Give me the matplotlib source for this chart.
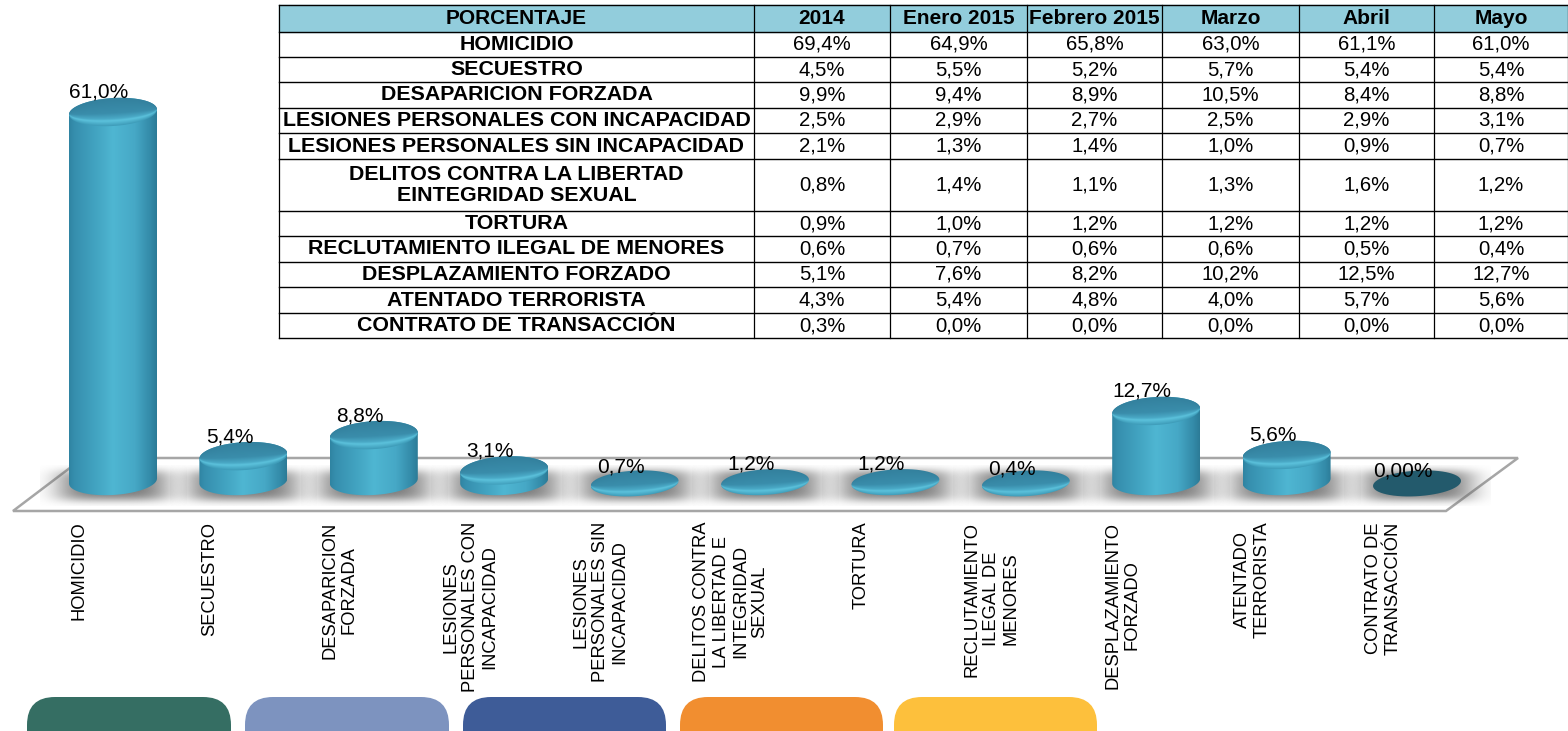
import numpy as np
import matplotlib
matplotlib.use("Agg")
import matplotlib.pyplot as plt
from matplotlib.colors import to_rgb
from matplotlib.patches import FancyBboxPatch, Polygon

plt.rcParams["font.family"] = ["Liberation Sans", "DejaVu Sans"]

# table data
table_title = "PORCENTAJE"
table_periods = ["2014", "Enero 2015", "Febrero 2015", "Marzo", "Abril", "Mayo"]
table_rows = [
    "HOMICIDIO",
    "SECUESTRO",
    "DESAPARICION FORZADA",
    "LESIONES PERSONALES CON INCAPACIDAD",
    "LESIONES PERSONALES SIN INCAPACIDAD",
    "DELITOS CONTRA LA LIBERTAD\nEINTEGRIDAD SEXUAL",
    "TORTURA",
    "RECLUTAMIENTO ILEGAL DE MENORES",
    "DESPLAZAMIENTO FORZADO",
    "ATENTADO TERRORISTA",
    "CONTRATO DE TRANSACCIÓN",
]
values_2014 = [69.4, 4.5, 9.9, 2.5, 2.1, 0.8, 0.9, 0.6, 5.1, 4.3, 0.3]
values_enero = [64.9, 5.5, 9.4, 2.9, 1.3, 1.4, 1.0, 0.7, 7.6, 5.4, 0.0]
values_febrero = [65.8, 5.2, 8.9, 2.7, 1.4, 1.1, 1.2, 0.6, 8.2, 4.8, 0.0]
values_marzo = [63.0, 5.7, 10.5, 2.5, 1.0, 1.3, 1.2, 0.6, 10.2, 4.0, 0.0]
values_abril = [61.1, 5.4, 8.4, 2.9, 0.9, 1.6, 1.2, 0.5, 12.5, 5.7, 0.0]
values_mayo = [61.0, 5.4, 8.8, 3.1, 0.7, 1.2, 1.2, 0.4, 12.7, 5.6, 0.0]

# chart data
bar_names = [
    "HOMICIDIO",
    "SECUESTRO",
    "DESAPARICION\nFORZADA",
    "LESIONES\nPERSONALES CON\nINCAPACIDAD",
    "LESIONES\nPERSONALES SIN\nINCAPACIDAD",
    "DELITOS CONTRA\nLA LIBERTAD E\nINTEGRIDAD\nSEXUAL",
    "TORTURA",
    "RECLUTAMIENTO\nILEGAL DE\nMENORES",
    "DESPLAZAMIENTO\nFORZADO",
    "ATENTADO\nTERRORISTA",
    "CONTRATO DE\nTRANSACCIÓN",
]
bar_labels = ["61,0%", "5,4%", "8,8%", "3,1%", "0,7%", "1,2%", "1,2%", "0,4%", "12,7%", "5,6%", "0,00%"]
button_colors = ["#356e63", "#7d93bf", "#3e5c98", "#f18e30", "#fdc03c"]

# layout, in pixels of the 1568x731 picture
W, H = 1568, 731
col_edges = [279, 754, 890, 1027, 1162, 1299, 1434, 1568]
row_edges = [5, 32, 57, 82, 108, 133, 159, 211, 236, 262, 287, 313, 338]
button_edges = [(27, 231), (245, 449), (463, 666), (680, 883), (894, 1097)]
first_bar_px, bar_step_px = 113, 130.4
zero_px, pct_px = 489.6, 6.19
half_w = 44 / bar_step_px
half_h = 14 / pct_px
disk_h = 12.8 / pct_px
disk_level = 1.0
min_cylinder = 1.4
base_level = 1.39
# the cylinders lean a little: the right side of each ellipse sits higher
skew = (5 / pct_px) / (2 * half_w)

body_stops = [0, 0.06, 0.3, 0.5, 0.75, 0.93, 1]
body_colors = ["#2f84a2", "#368fae", "#42a3c1", "#4fb6d2", "#46a8c6", "#338aa8", "#2c7b97"]
top_stops = [0, 0.55, 0.75, 0.82, 1]
top_colors = ["#33809d", "#3a8dab", "#4aa9c6", "#5cc2dc", "#3f9dba"]


def ramp(stops, colors, n=200):
    pos = np.linspace(0, 1, n)
    rgb = np.array([to_rgb(c) for c in colors])
    return np.stack([np.interp(pos, stops, rgb[:, k]) for k in range(3)], axis=1)


def ellipse_points(x, y, w, h, start, stop, n=60):
    t = np.linspace(start, stop, n)
    return np.column_stack([x + w * np.cos(t), y + h * np.sin(t) + skew * w * np.cos(t)])


def draw_shadow(ax, x):
    gx, gy = np.meshgrid(np.linspace(-1, 1, 200), np.linspace(-1, 1, 80))
    rgba = np.zeros((80, 200, 4))
    rgba[..., :3] = 0.4
    rgba[..., 3] = 0.85 * np.exp(-(gx ** 4 + gy ** 4) * 2.8)
    ax.imshow(rgba, extent=(x - 0.56, x + 0.56, -2.6, 4.0), aspect="auto", zorder=1)


def draw_top(ax, x, y, h, zorder):
    gx, gy = np.meshgrid(np.linspace(-1, 1, 160), np.linspace(1.3, -1.3, 120))
    chord = np.sqrt(np.clip(1 - gx ** 2, 0.02, 1))
    rows = 0.5 + 0.5 * np.clip((gy - skew * half_w * gx / h) / chord, -1, 1)
    colors = ramp(top_stops, top_colors)
    image = colors[np.clip((1 - rows) * 199, 0, 199).astype(int)]
    im = ax.imshow(image, extent=(x - half_w, x + half_w, y - 1.3 * h, y + 1.3 * h), aspect="auto",
                   origin="upper", zorder=zorder)
    im.set_clip_path(Polygon(ellipse_points(x, y, half_w, h, 0, 2 * np.pi), transform=ax.transData))


def draw_cylinder(ax, x, value, base):
    body = ramp(body_stops, body_colors)[np.newaxis, :, :]
    im = ax.imshow(body, extent=(x - half_w, x + half_w, base - 1.6 * half_h, value + 1.6 * half_h),
                   aspect="auto", zorder=2)
    outline = np.vstack([
        ellipse_points(x, base, half_w, half_h, np.pi, 2 * np.pi),
        ellipse_points(x, value, half_w, half_h, 0, np.pi),
    ])
    im.set_clip_path(Polygon(outline, transform=ax.transData))
    draw_top(ax, x, value, half_h, 3)


def draw_disk(ax, x, value):
    if value == 0:
        ax.add_patch(Polygon(ellipse_points(x, disk_level, half_w, disk_h, 0, 2 * np.pi),
                             facecolor="#235a6c", edgecolor="none", zorder=3))
    else:
        draw_top(ax, x, max(value, disk_level), disk_h, 3)


def draw_plate(ax):
    plate = Polygon([(83, 458), (1518, 458), (1446, 511), (13, 511)], closed=True,
                    facecolor="white", edgecolor="#a6a6a6", linewidth=1.8, zorder=0)
    ax.add_patch(plate)


def draw_table(ax):
    columns = [values_2014, values_enero, values_febrero, values_marzo, values_abril, values_mayo]
    ax.fill_between(col_edges, row_edges[0], row_edges[1], color="#92cddc", zorder=1)
    for y in row_edges:
        ax.plot([col_edges[0], col_edges[-1]], [y, y], color="black", lw=1.0, zorder=2)
    for x in col_edges:
        ax.plot([x, x], [row_edges[0], row_edges[-1]], color="black", lw=0.9, zorder=2)

    def mid(edges, i):
        return (edges[i] + edges[i + 1]) / 2

    ax.text(mid(col_edges, 0), mid(row_edges, 0), table_title, ha="center", va="center",
            fontsize=15, fontweight="bold", zorder=3)
    for j, period in enumerate(table_periods):
        ax.text(mid(col_edges, j + 1), mid(row_edges, 0), period, ha="center", va="center",
                fontsize=15, fontweight="bold", zorder=3)
    for i, name in enumerate(table_rows):
        ax.text(mid(col_edges, 0), mid(row_edges, i + 1), name, ha="center", va="center",
                multialignment="center", fontsize=15.4, fontweight="bold", zorder=3, linespacing=1.15)
        for j, column in enumerate(columns):
            text = f"{column[i]:.1f}".replace(".", ",") + "%"
            ax.text(mid(col_edges, j + 1), mid(row_edges, i + 1), text, ha="center",
                    va="center", fontsize=14.7, zorder=3)


def draw_buttons(ax):
    for (left, right), color in zip(button_edges, button_colors):
        ax.add_patch(FancyBboxPatch((left + 28, 697 + 28), right - left - 56, 80,
                                    boxstyle="round,pad=28,rounding_size=28",
                                    facecolor=color, edgecolor="none", zorder=1))


def main():
    fig = plt.figure(figsize=(W / 100, H / 100), dpi=100)

    # back layer in picture pixels: table, plate and the coloured tabs
    back = fig.add_axes([0, 0, 1, 1])
    back.set_xlim(0, W)
    back.set_ylim(H, 0)
    back.axis("off")
    draw_plate(back)
    draw_table(back)
    draw_buttons(back)

    # chart layer: x is the category index, y is the percentage
    ax = fig.add_axes([0, 0, 1, 1])
    ax.patch.set_alpha(0)
    ax.set_xlim(-first_bar_px / bar_step_px, (W - first_bar_px) / bar_step_px)
    ax.set_ylim((zero_px - H) / pct_px, zero_px / pct_px)
    ax.axis("off")
    ax.autoscale(False)

    for i, value in enumerate(values_mayo):
        draw_shadow(ax, i)
        if value > min_cylinder:
            draw_cylinder(ax, i, value, base_level)
            label_y = value + half_h
        else:
            draw_disk(ax, i, value)
            label_y = value + 2.1
        ax.annotate(bar_labels[i], (i, label_y), xytext=(-10, 4), textcoords="offset points",
                    ha="center", va="center", fontsize=15, zorder=5)
        ax.annotate(bar_names[i], (i, 0), xytext=(-24.5, -23), textcoords="offset points",
                    ha="center", va="top", rotation=90, multialignment="center",
                    fontsize=13.2, linespacing=1.18, zorder=5)

    fig.savefig("out.png", dpi=100)


if __name__ == "__main__":
    main()
